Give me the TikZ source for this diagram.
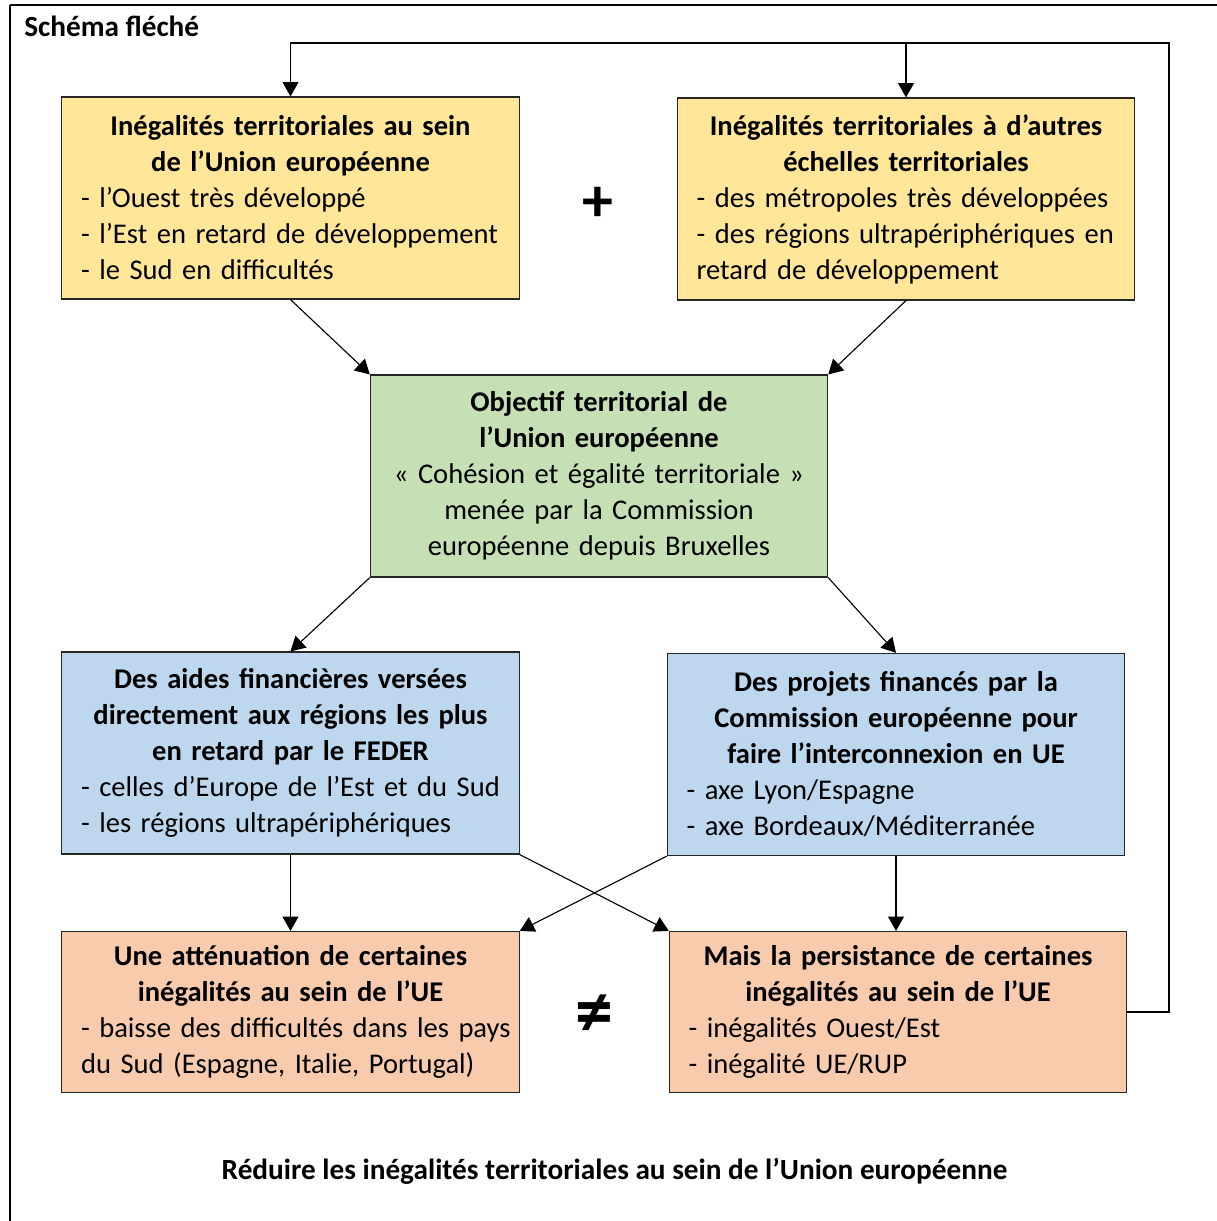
\documentclass[tikz,border=0pt]{standalone}
\usepackage{fontspec}
\setmainfont{Carlito}
\usetikzlibrary{arrows.meta}

\definecolor{jaune}{HTML}{FFE699}
\definecolor{vert}{HTML}{C5E0B4}
\definecolor{bleu}{HTML}{BDD7EE}
\definecolor{orange}{HTML}{F8CBAD}

\newcommand{\titre}[1]{{\centering\bfseries #1\par}}
\newcommand{\ligne}[1]{\mbox{#1}}

\tikzset{
  boite/.style={draw=black!85, line width=0.8pt, minimum width=11.425cm,
    minimum height=5.05cm, text width=10.47cm, inner xsep=0.48cm,
    align=left, font=\fontsize{20.3}{25.6}\selectfont},
  fleche/.style={-{Triangle[length=0.36cm,width=0.4cm]}, line width=0.8pt}
}

\begin{document}
\begin{tikzpicture}[x=0.025cm,y=-0.025cm]
    \useasboundingbox (0,0) rectangle (1216,1221);
    % Cadre
    \draw[line width=1.8pt] (10,5) -- (1240,5);
    \draw[line width=1.8pt] (10,5) -- (10,1240);
    \node[anchor=west, inner sep=0pt, font=\fontsize{20.8}{24}\selectfont\bfseries] (schema) at (24,26) {Schéma fléché};

    % Premiere ligne
    \node[boite, fill=jaune] (ineg-ue) at (290.5,198)
      {\titre{Inégalités territoriales au sein\\de l’Union européenne}
      \ligne{- l’Ouest très développé}\\
      \ligne{- l’Est en retard de développement}\\
      \ligne{- le Sud en difficultés}};
    \node[boite, fill=jaune] (ineg-autres) at (906,199)
      {\titre{Inégalités territoriales à d’autres\\échelles territoriales}
      \ligne{- des métropoles très développées}\\
      \ligne{- des régions ultrapériphériques en}\\
      \ligne{retard de développement}};
    \node[font=\fontsize{44}{44}\selectfont\bfseries] (plus) at (598,204) {+};

    % Objectif
    \node[boite, fill=vert, align=center] (objectif) at (599,476)
      {\textbf{Objectif territorial de}\\
      \textbf{l’Union européenne}\\
      « Cohésion et égalité territoriale »\\
      menée par la Commission\\
      européenne depuis Bruxelles};

    % Deuxieme ligne
    \node[boite, fill=bleu] (aides) at (290.5,753)
      {\titre{Des aides financières versées\\directement aux régions les plus\\en retard par le FEDER}
      \ligne{- celles d’Europe de l’Est et du Sud}\\
      \ligne{- les régions ultrapériphériques}};
    \node[boite, fill=bleu] (projets) at (896,754.5)
      {\titre{Des projets financés par la\\Commission européenne pour\\faire l’interconnexion en UE}
      \ligne{- axe Lyon/Espagne}\\
      \ligne{- axe Bordeaux/Méditerranée}};

    % Resultats
    \node[boite, fill=orange, minimum height=4.025cm] (attenuation) at (290.5,1012)
      {\titre{Une atténuation de certaines\\inégalités au sein de l’UE}
      \ligne{- baisse des difficultés dans les pays}\\
      \ligne{du Sud (Espagne, Italie, Portugal)}};
    \node[boite, fill=orange, minimum height=4.025cm] (persistance) at (898,1012)
      {\titre{Mais la persistance de certaines\\inégalités au sein de l’UE}
      \ligne{- inégalités Ouest/Est}\\
      \ligne{- inégalité UE/RUP}};
    \node[font=\fontsize{54}{54}\selectfont\bfseries] (different) at (594,1016) {≠};

    \node[font=\fontsize{20.8}{24}\selectfont\bfseries] (conclusion) at (614.5,1171)
      {Réduire les inégalités territoriales au sein de l’Union européenne};

    % Fleches
    \coordinate (retour) at (1169,43);
    \draw[fleche] (ineg-ue.south) -- (objectif.north west);
    \draw[fleche] (ineg-autres.south) -- (objectif.north east);
    \draw[fleche] (objectif.south west) -- (aides.north);
    \draw[fleche] (objectif.south east) -- (projets.north);
    \draw[fleche] (aides.south) -- (attenuation.north);
    \draw[fleche] (projets.south) -- (projets.south |- persistance.north);
    \draw[fleche] (aides.south east) -- (persistance.north west);
    \draw[fleche] (projets.south west) -- (attenuation.north east);
    \draw[fleche] (persistance.east) -| (retour) -- (retour -| ineg-ue.north) -- (ineg-ue.north);
    \draw[fleche] (retour -| ineg-autres.north) -- (ineg-autres.north);
\end{tikzpicture}
\end{document}
